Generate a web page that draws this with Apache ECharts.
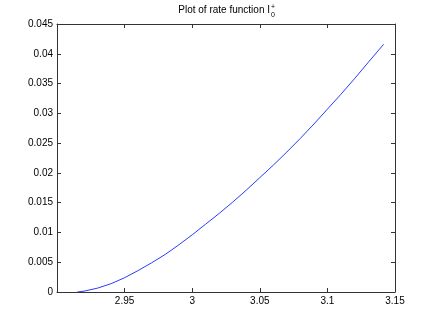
<!DOCTYPE html>
<html>
<head>
<meta charset="utf-8">
<script src="https://cdn.jsdelivr.net/npm/echarts@6/dist/echarts.min.js"></script>
<style>
  html, body { margin: 0; padding: 0; background: #fff; }
  #chart { width: 436px; height: 328px; }
</style>
</head>
<body>
<div id="chart"></div>
<script>
// values
const xValues = [2.915, 2.92, 2.93, 2.94, 2.95, 2.96, 2.97, 2.98, 2.99, 3.0,
  3.01, 3.02, 3.03, 3.04, 3.05, 3.06, 3.07, 3.08, 3.09, 3.1,
  3.11, 3.12, 3.13, 3.1416];
const rateValues = [0, 0.00014, 0.00065, 0.0014, 0.0024, 0.0036, 0.0049, 0.0063, 0.0079, 0.0096,
  0.0114, 0.0132, 0.0151, 0.0171, 0.0192, 0.0213, 0.0235, 0.0258, 0.0282, 0.0307,
  0.0332, 0.0358, 0.0385, 0.0416];
const xTicks = { min: 2.9, max: 3.15, interval: 0.05 };
const yTicks = { min: 0, max: 0.045, interval: 0.005 };

const chart = echarts.init(document.getElementById('chart'));
const font = 'Liberation Sans, Arial, sans-serif';

const axisBase = {
  type: 'value',
  axisLine: { show: true, onZero: false, lineStyle: { color: '#333', width: 1 } },
  axisTick: { show: true, inside: true, length: 4, lineStyle: { color: '#333' } },
  splitLine: { show: false }
};

const fmt = v => String(+v.toFixed(3));

const option = {
  animation: false,
  backgroundColor: '#fff',
  grid: { left: 57, right: 41, top: 24, bottom: 36, show: false },
  xAxis: [
    Object.assign({}, axisBase, xTicks, {
      position: 'bottom',
      axisLabel: {
        color: '#000', fontFamily: font, fontSize: 10, margin: 4,
        formatter: v => (Math.abs(v - 2.9) < 1e-9 ? '' : fmt(v))
      }
    }),
    Object.assign({}, axisBase, xTicks, {
      position: 'top',
      axisLabel: { show: false }
    })
  ],
  yAxis: [
    Object.assign({}, axisBase, yTicks, {
      position: 'left',
      axisLabel: { color: '#000', fontFamily: font, fontSize: 10, margin: 4, formatter: fmt }
    }),
    Object.assign({}, axisBase, yTicks, {
      position: 'right',
      axisLabel: { show: false }
    })
  ],
  graphic: [
    {
      type: 'text', x: 270, y: 10,
      style: { text: 'Plot of rate function I', fill: '#000', font: '10px ' + font,
        textAlign: 'right', textVerticalAlign: 'middle' }
    },
    {
      type: 'text', x: 271, y: 7,
      style: { text: '+', fill: '#000', font: '7px ' + font, textVerticalAlign: 'middle' }
    },
    {
      type: 'text', x: 271, y: 15,
      style: { text: '0', fill: '#000', font: '7px ' + font, textVerticalAlign: 'middle' }
    }
  ],
  series: [{
    type: 'line',
    xAxisIndex: 0,
    yAxisIndex: 0,
    data: xValues.map((x, i) => [x, rateValues[i]]),
    showSymbol: false,
    smooth: false,
    lineStyle: { color: '#2a3cff', width: 1 }
  }]
};

chart.setOption(option);
</script>
</body>
</html>
